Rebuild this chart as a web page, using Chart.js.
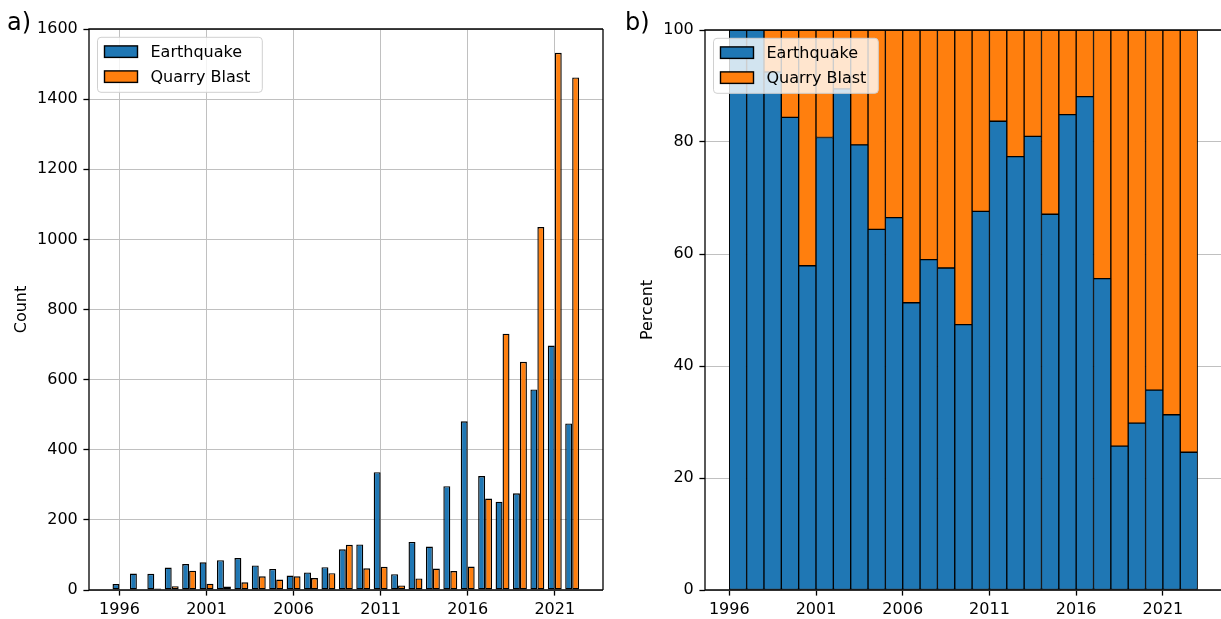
<!DOCTYPE html>
<html>
<head>
<meta charset="utf-8">
<script src="https://cdn.jsdelivr.net/npm/chart.js@4.4.1/dist/chart.umd.min.js"></script>
<style>
html,body{margin:0;padding:0;background:#fff;overflow:hidden}
#wrap{position:relative;width:1221px;height:619px;background:#fff}
canvas{position:absolute;top:0}
#c1{left:0}
#c2{left:610px}
.lab{position:absolute;font-family:'DejaVu Sans';font-size:24px;color:#000;line-height:24px;white-space:nowrap}
</style>
</head>
<body>
<div id="wrap">
<canvas id="c1" width="610" height="619"></canvas>
<canvas id="c2" width="611" height="619"></canvas>
<div class="lab" style="left:7px;top:10px">a)</div>
<div class="lab" style="left:625px;top:10px">b)</div>
</div>
<script>
// ---------- data ----------
const years = [1996,1997,1998,1999,2000,2001,2002,2003,2004,2005,2006,2007,2008,2009,2010,2011,2012,2013,2014,2015,2016,2017,2018,2019,2020,2021,2022];
const seriesNames = ['Earthquake', 'Quarry Blast'];
const earthquakeCount = [17,47,46,64,74,79,85,91,70,60,41,50,65,116,130,336,45,137,124,296,481,325,252,276,572,697,475];
const quarryCount     = [0,0,4,11,55,18,10,22,39,30,39,34,48,129,62,66,13,33,61,54,67,261,731,651,1035,1532,1462];
const earthquakePct = [100,100,92.5,84.4,57.9,80.8,89.5,79.5,64.4,66.5,51.3,59.0,57.5,47.4,67.6,83.7,77.4,81.0,67.1,84.9,88.1,55.6,25.7,29.8,35.7,31.3,24.6];
const quarryPct     = [0,0,7.5,15.6,42.1,19.2,10.5,20.5,35.6,33.5,48.7,41.0,42.5,52.6,32.4,16.3,22.6,19.0,32.9,15.1,11.9,44.4,74.3,70.2,64.3,68.7,75.4];
const xTicks = [1996,2001,2006,2011,2016,2021];
const countTicks = [0,200,400,600,800,1000,1200,1400,1600];
const pctTicks = [0,20,40,60,80,100];

const BLUE = '#1f77b4', ORANGE = '#ff7f0e';

Chart.defaults.font.family = "'DejaVu Sans'";
Chart.defaults.font.size = 16;
Chart.defaults.color = '#000';

// spines + legend
const framePlugin = {
  id: 'frameLegend',
  afterDatasetsDraw(chart, args, opts) {
    const a = chart.chartArea, ctx = chart.ctx;
    ctx.save();
    ctx.strokeStyle = '#000';
    ctx.lineWidth = 1.3;
    ctx.beginPath();
    ctx.moveTo(a.left, a.bottom); ctx.lineTo(a.left, a.top); ctx.lineTo(a.right, a.top);
    ctx.moveTo(a.left, a.bottom); ctx.lineTo(a.right, a.bottom);
    if (opts.right) { ctx.moveTo(a.right, a.top); ctx.lineTo(a.right, a.bottom); }
    ctx.stroke();
    // legend
    ctx.font = "16px 'DejaVu Sans'";
    const ds = chart.data.datasets;
    let tw = 0;
    ds.forEach(d => { tw = Math.max(tw, ctx.measureText(d.label).width); });
    const bx = a.left + 8.5, by = a.top + 8.3;
    const bw = 53 + tw + 12, bh = 55;
    const r = 3.5;
    ctx.beginPath();
    ctx.moveTo(bx + r, by);
    ctx.lineTo(bx + bw - r, by); ctx.arcTo(bx + bw, by, bx + bw, by + r, r);
    ctx.lineTo(bx + bw, by + bh - r); ctx.arcTo(bx + bw, by + bh, bx + bw - r, by + bh, r);
    ctx.lineTo(bx + r, by + bh); ctx.arcTo(bx, by + bh, bx, by + bh - r, r);
    ctx.lineTo(bx, by + r); ctx.arcTo(bx, by, bx + r, by, r);
    ctx.closePath();
    ctx.fillStyle = 'rgba(255,255,255,0.8)';
    ctx.fill();
    ctx.strokeStyle = '#d0d0d0';
    ctx.lineWidth = 1;
    ctx.stroke();
    ds.forEach((d, i) => {
      const py = by + 8.6 + i * 25;
      ctx.fillStyle = d.backgroundColor;
      ctx.fillRect(bx + 7, py, 33, 11.5);
      ctx.strokeStyle = '#000';
      ctx.lineWidth = 1.4;
      ctx.strokeRect(bx + 7, py, 33, 11.5);
      ctx.fillStyle = '#000';
      ctx.textBaseline = 'middle';
      ctx.textAlign = 'left';
      ctx.fillText(d.label, bx + 53, py + 6.5);
    });
    ctx.restore();
  }
};

function xScale(min, max) {
  return {
    type: 'linear', min: min, max: max, bounds: 'data', offset: false,
    grid: { offset: false, color: '#c0c0c0', lineWidth: 1, tickColor: '#000', tickWidth: 1.3, tickLength: 5.6, drawTicks: true },
    border: { display: false },
    afterBuildTicks: s => { s.ticks = xTicks.map(v => ({ value: v })); },
    ticks: { padding: 5, callback: v => String(v), maxRotation: 0, autoSkip: false, color: '#000', font: { size: 16 } },
    afterFit: s => { s.height = 29; }
  };
}
function yScale(max, ticks, title, titlePad, width) {
  return {
    type: 'linear', min: 0, max: max, bounds: 'data',
    grid: { color: '#c0c0c0', lineWidth: 1, tickColor: '#000', tickWidth: 1.3, tickLength: 5.6, drawTicks: true },
    border: { display: false },
    afterBuildTicks: s => { s.ticks = ticks.map(v => ({ value: v })); },
    ticks: { padding: 5.6, callback: v => String(v), autoSkip: false, color: '#000', font: { size: 16 } },
    title: { display: true, text: title, color: '#000', font: { size: 16 }, padding: { top: titlePad, bottom: 0 } },
    afterFit: s => { s.width = width; }
  };
}

// ---------- chart a) ----------
new Chart(document.getElementById('c1'), {
  type: 'bar',
  data: {
    datasets: [
      { label: seriesNames[0], data: years.map((y, i) => ({ x: y, y: earthquakeCount[i] })), backgroundColor: BLUE, borderColor: '#000', borderWidth: 1.4, borderSkipped: false },
      { label: seriesNames[1], data: years.map((y, i) => ({ x: y, y: quarryCount[i] })), backgroundColor: ORANGE, borderColor: '#000', borderWidth: 1.4, borderSkipped: false }
    ]
  },
  options: {
    responsive: false, animation: false, devicePixelRatio: 1,
    categoryPercentage: 0.8, barPercentage: 1.0,
    layout: { padding: { top: 29, right: 7, left: 0, bottom: 0 } },
    plugins: { legend: { display: false }, tooltip: { enabled: false }, frameLegend: { right: true } },
    scales: {
      x: xScale(1994.25, 2023.77),
      y: yScale(1600, countTicks, 'Count', 11.8, 89)
    }
  },
  plugins: [framePlugin]
});

// ---------- chart b) ----------
new Chart(document.getElementById('c2'), {
  type: 'bar',
  data: {
    datasets: [
      { label: seriesNames[0], data: years.map((y, i) => ({ x: y + 0.5, y: earthquakePct[i] })), backgroundColor: BLUE, borderColor: '#000', borderWidth: 1, borderSkipped: false },
      { label: seriesNames[1], data: years.map((y, i) => ({ x: y + 0.5, y: quarryPct[i] })), backgroundColor: ORANGE, borderColor: '#000', borderWidth: 1, borderSkipped: false }
    ]
  },
  options: {
    responsive: false, animation: false, devicePixelRatio: 1,
    categoryPercentage: 1.0, barPercentage: 1.0,
    layout: { padding: { top: 30, right: 0, left: 0, bottom: 0 } },
    plugins: { legend: { display: false }, tooltip: { enabled: false }, frameLegend: { right: false } },
    scales: {
      x: Object.assign(xScale(1994.6, 2024.35), { stacked: true }),
      y: Object.assign(yScale(100, pctTicks, 'Percent', 27.8, 95), { stacked: true })
    }
  },
  plugins: [framePlugin]
});
</script>
</body>
</html>
